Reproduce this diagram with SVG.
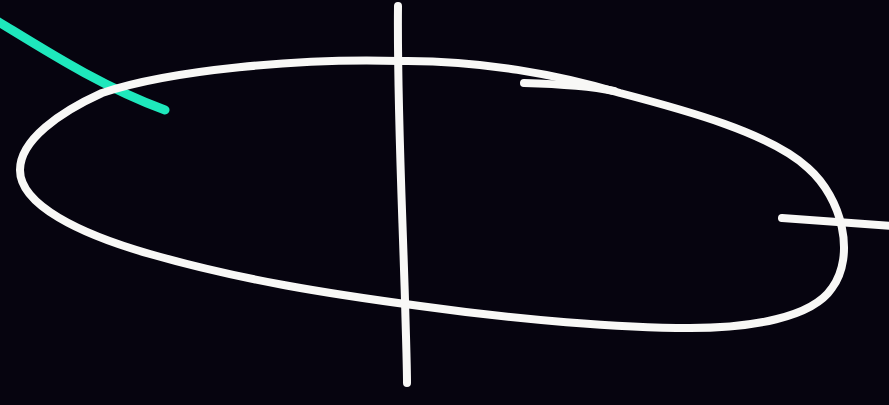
<svg xmlns="http://www.w3.org/2000/svg" width="889" height="405" viewBox="0 0 889 405">
  <style>
    .w { fill: none; stroke: #f8f8f6; stroke-width: 8; stroke-linecap: round; stroke-linejoin: round; }
    .t { fill: none; stroke: #1ee8bc; stroke-width: 9; stroke-linecap: round; }
  </style>
  <rect x="0" y="0" width="889" height="405" fill="#06040f"/>
  <g id="scene">
    <path id="teal-curve" class="t" d="M -6 19 C 45 50, 100 86, 165 110"/>
    <path id="ellipse" class="w" d="M 400 61 C 480 60, 560 75, 620 93 C 685 110, 770 133, 808 168 C 842 198, 856 255, 832 288 C 812 318, 750 328, 690 328 C 620 328, 520 320, 420 306 C 330 294, 240 280, 150 254 C 80 234, 20 205, 20 170 C 20 140, 60 112, 102 93 C 170 70, 300 58, 400 61 Z"/>
    <path id="overstroke" class="w" d="M 524 83 C 560 84, 590 86, 614 91"/>
    <path id="vertical" class="w" d="M 398 6 C 397 100, 402 200, 405 300 C 406 340, 407 365, 407 383"/>
    <path id="right-stub" class="w" d="M 782 218 L 892 226"/>
  </g>
</svg>
